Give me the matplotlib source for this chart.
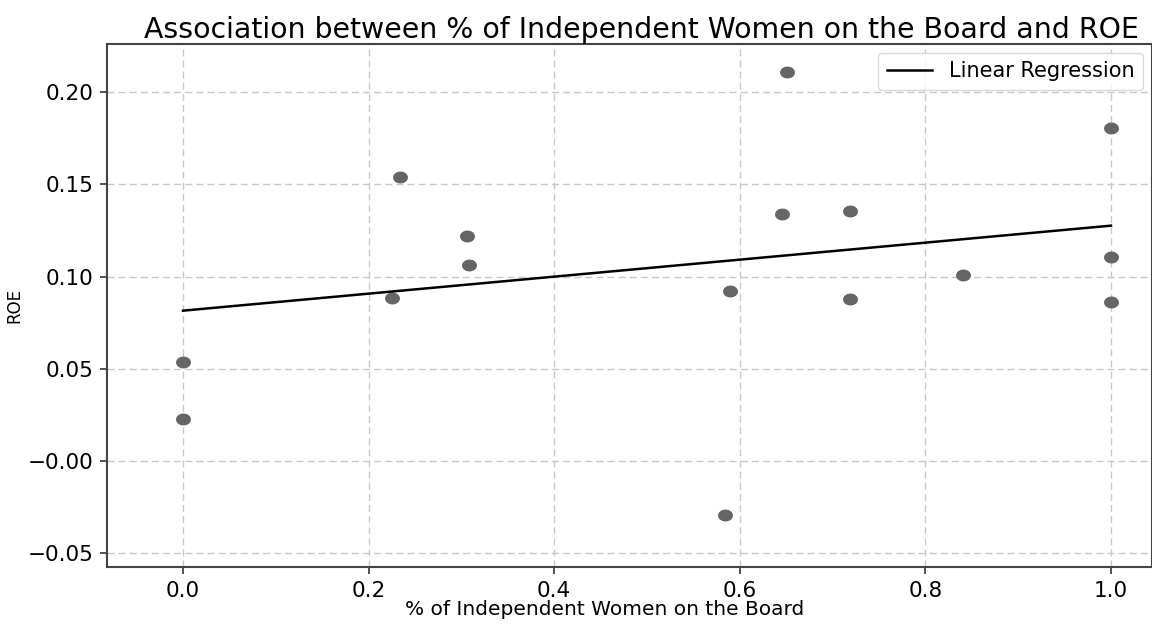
import numpy as np
import matplotlib
matplotlib.use("Agg")
import matplotlib.pyplot as plt
from matplotlib.path import Path

# ---- data ----
pct_women = [0.0, 0.0, 0.225, 0.234, 0.306, 0.308, 0.589, 0.584, 0.646, 0.651,
             0.719, 0.719, 0.841, 1.0, 1.0, 1.0]
roe = [0.0535, 0.0228, 0.0886, 0.1539, 0.1222, 0.1065, 0.0922, -0.0293, 0.1339,
       0.2108, 0.1356, 0.0879, 0.1009, 0.1108, 0.0864, 0.1807]
reg_x = [0.0, 1.0]
reg_y = [0.0815, 0.1276]
x_ticks = [0.0, 0.2, 0.4, 0.6, 0.8, 1.0]
x_ticklabels = ["0.0", "0.2", "0.4", "0.6", "0.8", "1.0"]
y_ticks = [-0.05, 0.0, 0.05, 0.10, 0.15, 0.20]
y_ticklabels = ["\u22120.05", "\u22120.00", "0.05", "0.10", "0.15", "0.20"]

plt.rcParams['font.family'] = ['DejaVu Sans']

W, H = 1152, 624
fig = plt.figure(figsize=(W / 100, H / 100), dpi=100)
ax = fig.add_axes([107 / W, 1 - 567 / H, (1152 - 107) / W, (567 - 44) / H])

# ellipse marker (reference is horizontally stretched)
t = np.linspace(0, 2 * np.pi, 60)
ell = Path(np.column_stack([np.cos(t), 0.8 * np.sin(t)]), closed=True)

ax.scatter(pct_women, roe, marker=ell, s=115, color='#656565', linewidths=0, zorder=3)
ax.plot(reg_x, reg_y, color='black', lw=1.8, label='Linear Regression', zorder=4)

ax.set_xlim(-0.0819, 1.0442)
ax.set_ylim(-0.0575, 0.2261)
ax.set_xticks(x_ticks)
ax.set_xticklabels(x_ticklabels)
ax.set_yticks(y_ticks)
ax.set_yticklabels(y_ticklabels)
ax.tick_params(labelsize=15.5, length=5, width=1.2, color='#333333', pad=5)

ax.grid(True, linestyle=(0, (5, 3)), color='#c8c8c8', linewidth=1.0)
ax.set_axisbelow(True)
for side in ['left', 'bottom', 'top', 'right']:
    ax.spines[side].set_color('#444444')
    ax.spines[side].set_linewidth(1.5)

ax.set_xlabel('% of Independent Women on the Board', fontsize=14.5)
ax.xaxis.set_label_coords((605 - 107) / (1152 - 107), -0.0625)
ax.set_ylabel('ROE', fontsize=12, labelpad=3)
ax.set_title('Association between % of Independent Women on the Board and ROE',
             fontsize=20.4, pad=4, x=(641 - 107) / (1152 - 107))

leg = ax.legend(loc='upper right', bbox_to_anchor=(1143 / W, 1 - 53 / H),
                bbox_transform=fig.transFigure, borderaxespad=0, fontsize=15,
                frameon=True, fancybox=True, handlelength=2.2)
leg.get_frame().set_edgecolor('#d0d0d0')

fig.savefig('out.png', dpi=100)
